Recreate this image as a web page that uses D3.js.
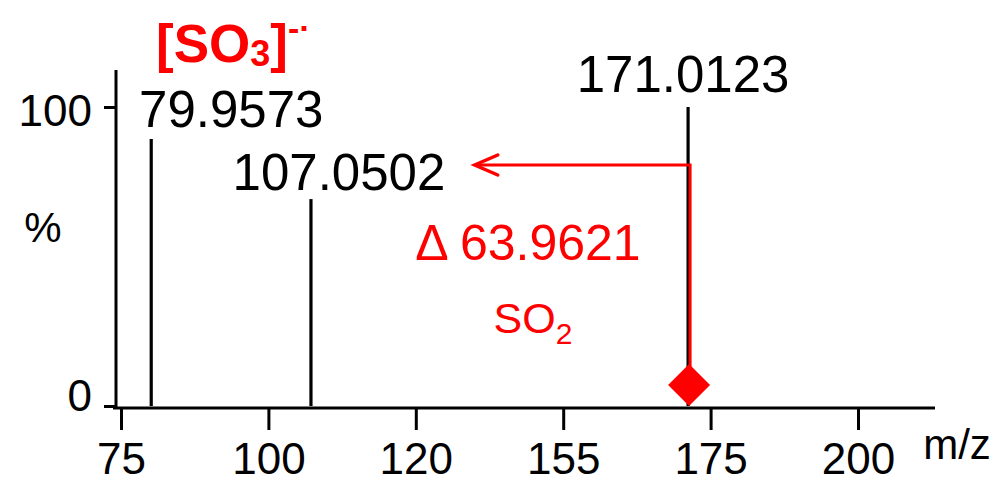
<!DOCTYPE html>
<html>
<head>
<meta charset="utf-8">
<script src="https://cdn.jsdelivr.net/npm/d3@7"></script>
<style>
  body { margin: 0; background: #fff; }
  svg { display: block; font-family: "Liberation Sans", Arial, sans-serif; }
</style>
</head>
<body>
<svg width="1005" height="481"></svg>
<script>
// peaks (m/z, relative intensity %)
var peakMz = [79.9573, 107.0502, 171.0123];
var peakInt = [89.3, 69.2, 100];
var peakLabels = ["79.9573", "107.0502", "171.0123"];

// axis ticks (labels as printed on the original)
var xTickValues = [75, 100, 125, 150, 175, 200];
var xTickLabels = ["75", "100", "120", "155", "175", "200"];
var yTickValues = [0, 100];

// neutral loss annotation
var lossFrom = 171.0123;
var lossTo = 135;
var lossLevel = 80.6;
var lossMarkerInt = 7;
var lossText = "\u0394 63.9621";

var svg = d3.select("svg");
var red = "#ff0000";

var x = d3.scaleLinear().domain([75, 200]).range([121, 858]);
var y = d3.scaleLinear().domain([0, 100]).range([406, 107]);

// axes
var xAxis = svg.append("g")
    .attr("transform", "translate(0,408)")
    .call(d3.axisBottom(x)
        .tickValues(xTickValues)
        .tickFormat(function(d, i) { return xTickLabels[i]; })
        .tickSize(22)
        .tickPadding(13));
xAxis.select(".domain").remove();
xAxis.selectAll("line").attr("stroke", "#000").attr("stroke-width", 3);
xAxis.selectAll("text").attr("font-size", 44).attr("fill", "#000")
    .attr("font-family", "Liberation Sans, Arial, sans-serif");

var yAxis = svg.append("g")
    .attr("transform", "translate(116,0)")
    .call(d3.axisLeft(y)
        .tickValues(yTickValues)
        .tickSize(12)
        .tickPadding(12));
yAxis.select(".domain").remove();
yAxis.selectAll("line").attr("stroke", "#000").attr("stroke-width", 3);
yAxis.selectAll("text").attr("font-size", 44).attr("fill", "#000")
    .attr("font-family", "Liberation Sans, Arial, sans-serif")
    .attr("dy", function(d) { return d === 0 ? "0.1em" : "0.42em"; });

// axis lines
svg.append("line").attr("x1", 113).attr("x2", 935).attr("y1", 408).attr("y2", 408)
    .attr("stroke", "#000").attr("stroke-width", 3);
svg.append("line").attr("x1", 116).attr("x2", 116).attr("y1", 70).attr("y2", 409)
    .attr("stroke", "#000").attr("stroke-width", 3);

svg.append("text").attr("x", 957).attr("y", 459).attr("text-anchor", "middle")
    .attr("font-size", 42).text("m/z");
svg.append("text").attr("x", 43).attr("y", 242).attr("text-anchor", "middle")
    .attr("font-size", 42).text("%");

// sticks
svg.append("g").selectAll("line")
    .data(peakMz)
    .enter().append("line")
    .attr("x1", function(d) { return x(d) + 1; })
    .attr("x2", function(d) { return x(d) + 1; })
    .attr("y1", y(0))
    .attr("y2", function(d, i) { return y(peakInt[i]); })
    .attr("stroke", "#000")
    .attr("stroke-width", 3.2);

// peak labels
var labelDx = [81, 29, -4];
var labelDy = [-12, -9, -15];
svg.append("g").selectAll("text")
    .data(peakMz)
    .enter().append("text")
    .attr("x", function(d, i) { return x(d) + labelDx[i]; })
    .attr("y", function(d, i) { return y(peakInt[i]) + labelDy[i]; })
    .attr("text-anchor", "middle")
    .attr("font-size", 51)
    .text(function(d, i) { return peakLabels[i]; });

// neutral loss arrow
var ly = y(lossLevel);
svg.append("path")
    .attr("d", "M" + (x(lossFrom) + 3) + "," + y(lossMarkerInt) + "V" + ly + "H" + x(lossTo))
    .attr("fill", "none").attr("stroke", red).attr("stroke-width", 3);
svg.append("path")
    .attr("d", "M" + (x(lossTo) + 23) + "," + (ly - 10) + "L" + x(lossTo) + "," + ly +
        "L" + (x(lossTo) + 23) + "," + (ly + 10))
    .attr("fill", "none").attr("stroke", red).attr("stroke-width", 3.5)
    .attr("stroke-linecap", "round").attr("stroke-linejoin", "miter");

svg.append("path")
    .attr("transform", "translate(" + (x(lossFrom) + 2) + "," + y(lossMarkerInt) + ")")
    .attr("d", d3.symbol().type(d3.symbolDiamond2).size(1120)())
    .attr("fill", red);

svg.append("text").attr("x", 528).attr("y", 260).attr("text-anchor", "middle")
    .attr("font-size", 50).attr("fill", red).text(lossText);

var so2 = svg.append("text").attr("x", 533).attr("y", 333).attr("text-anchor", "middle")
    .attr("font-size", 43).attr("fill", red);
so2.append("tspan").text("SO");
so2.append("tspan").attr("font-size", 30).attr("dy", 11).text("2");

// ion label
var ion = svg.append("text").attr("x", 156).attr("y", 62)
    .attr("font-size", 53).attr("font-weight", "bold").attr("fill", red);
ion.append("tspan").text("[SO");
ion.append("tspan").attr("font-size", 36).attr("dy", 4).text("3");
ion.append("tspan").attr("dy", -4).text("]");
ion.append("tspan").attr("font-size", 34).attr("dy", -22).text("-\u00b7");
</script>
</body>
</html>
